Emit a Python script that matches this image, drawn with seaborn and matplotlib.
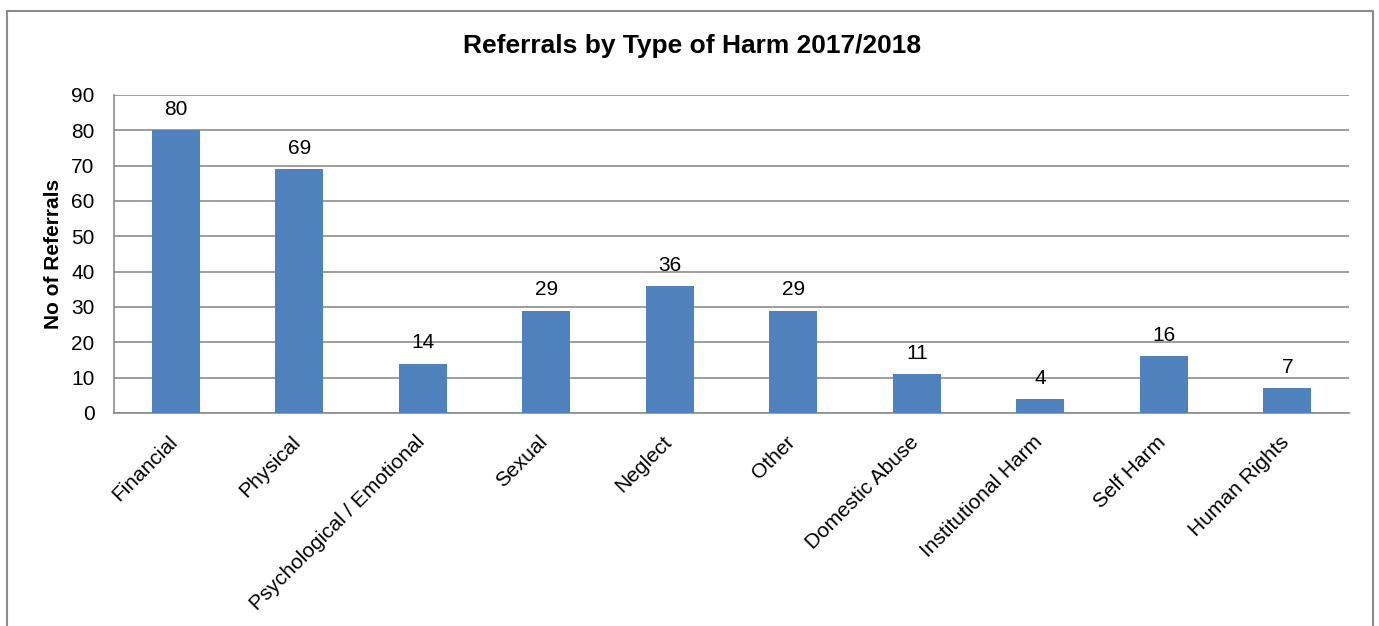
import matplotlib
matplotlib.use("Agg")
import matplotlib.pyplot as plt
import matplotlib.transforms as mtrans
import seaborn as sns
import pandas as pd
from matplotlib.patches import Rectangle

categories = ["Financial", "Physical", "Psychological / Emotional", "Sexual", "Neglect",
              "Other", "Domestic Abuse", "Institutional Harm", "Self Harm", "Human Rights"]
referrals = [80, 69, 14, 29, 36, 29, 11, 4, 16, 7]
y_ticks = [0, 10, 20, 30, 40, 50, 60, 70, 80, 90]

sns.set_theme(style="white")
plt.rcParams["font.family"] = ["Liberation Sans", "DejaVu Sans"]
plt.rcParams["text.color"] = "black"
plt.rcParams["axes.labelcolor"] = "black"
plt.rcParams["xtick.color"] = "black"
plt.rcParams["ytick.color"] = "black"

FS = 15
W, H = 1379, 626
fig = plt.figure(figsize=(W / 100, H / 100), dpi=100)
fig.patch.set_facecolor("white")

# outer chart frame
fig.patches.append(Rectangle((7 / W, -0.05), (1373 - 7) / W, 1.05 - 11 / H,
                             transform=fig.transFigure, fill=False,
                             edgecolor="#8C8C8C", linewidth=1.5))

left, right, top, bottom = 114, 1349, 95, 413
ax = fig.add_axes([left / W, 1 - bottom / H, (right - left) / W, (bottom - top) / H])

df = pd.DataFrame({"cat": categories, "val": referrals})
sns.barplot(data=df, x="cat", y="val", ax=ax, color="#4F81BD", saturation=1,
            width=0.39, edgecolor="none", zorder=3)

ax.set_ylim(0, 90)
ax.set_xlim(-0.5, len(categories) - 0.5)
ax.set_yticks(y_ticks)
ax.set_yticklabels([str(t) for t in y_ticks], fontsize=FS)
ax.yaxis.grid(True, color="#8C8C8C", linewidth=1.2, zorder=0)
ax.set_axisbelow(True)

# x ticks at category boundaries
ax.set_xticks([i + 0.5 for i in range(-1, len(categories))], minor=False)
ax.set_xticklabels([""] * (len(categories) + 1))
ax.set_xticks(range(len(categories)), minor=True)
ax.set_xticklabels(categories, minor=True, rotation=45, ha="right",
                   rotation_mode="anchor", fontsize=FS)
ax.tick_params(axis="x", which="minor", length=0, pad=9)
ax.tick_params(axis="x", which="major", length=4, width=1.2, color="#8C8C8C", direction="out")
ax.tick_params(axis="y", length=4.5, width=1.2, color="#8C8C8C", direction="out", pad=9.5)

offset = mtrans.ScaledTranslation(-8 / 100, -7 / 100, fig.dpi_scale_trans)
for lbl in ax.get_xticklabels(minor=True):
    lbl.set_transform(lbl.get_transform() + offset)

for s in ["top", "right"]:
    ax.spines[s].set_visible(False)
for s in ["left", "bottom"]:
    ax.spines[s].set_color("#8C8C8C")
    ax.spines[s].set_linewidth(1.2)

ax.set_xlabel("")
ax.set_ylabel("No of Referrals", fontsize=FS, fontweight="bold", labelpad=6)

for i, v in enumerate(referrals):
    ax.annotate(str(v), (i, v), xytext=(0, 8), textcoords="offset points",
                ha="center", va="bottom", fontsize=FS, color="black")

fig.text(692 / W, 1 - 46 / H, "Referrals by Type of Harm 2017/2018",
         ha="center", va="center", fontsize=19, fontweight="bold")

fig.savefig("out.png", dpi=100)
